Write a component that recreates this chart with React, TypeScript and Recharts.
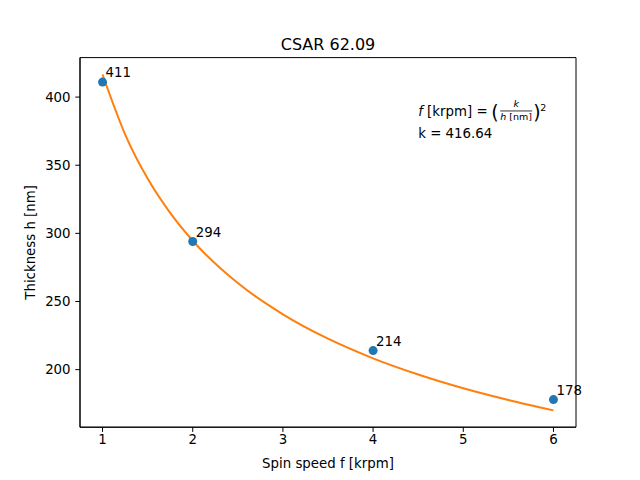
import { ComposedChart, Line, Scatter, XAxis, YAxis, ReferenceDot, ReferenceArea } from "recharts";

// measured film thickness vs spin speed
const spinSpeed = [1, 2, 4, 6];
const thickness = [411, 294, 214, 178];

// fitted curve h = k / sqrt(f), sampled
const fitSpeed = [1, 1.25, 1.5, 1.75, 2, 2.5, 3, 3.5, 4, 4.5, 5, 5.5, 6];
const fitThickness = [416.6, 372.7, 340.2, 315.0, 294.6, 263.5, 240.6, 222.7, 208.3, 196.4, 186.3, 177.7, 170.1];

const xTicks = [1, 2, 3, 4, 5, 6];
const yTicks = [200, 250, 300, 350, 400];
const xDomain = [0.75, 6.25];
const yDomain = [157.76, 428.97];
const kValue = "416.64";
const formulaAt = { f: 4.5, h: 370 };

const measured = spinSpeed.map((f, i) => ({ f, h: thickness[i] }));
const fit = fitSpeed.map((f, i) => ({ f, h: fitThickness[i] }));

const font = "DejaVu Sans, sans-serif";
const tickStyle = { fontSize: 13.33, fill: "#000", fontFamily: font };

const PointWithLabel = (props: any) => {
  const { cx, cy, payload } = props;
  return (
    <g>
      <circle cx={cx} cy={cy} r={4.5} fill="#1f77b4" />
      <text x={cx + 3} y={cy - 5} fontSize={13.33} fill="#000" fontFamily={font}>
        {payload.h}
      </text>
    </g>
  );
};

const Formula = (props: any) => {
  const vb = props.viewBox;
  const x0 = vb.x + vb.width / 2;
  const y1 = vb.y + vb.height / 2;
  const y0 = y1 - 22;
  return (
    <g fontFamily={font} fill="#000">
      <text x={x0} y={y0} fontSize={13.33}>
        <tspan fontStyle="italic">f</tspan>
        <tspan> [krpm] = </tspan>
      </text>
      <text x={x0 + 73} y={y0 + 3.5} fontSize={19}>(</text>
      <text x={x0 + 98} y={y0 - 8.5} fontSize={9.5} fontStyle="italic" textAnchor="middle">k</text>
      <line x1={x0 + 82} x2={x0 + 114} y1={y0 - 5} y2={y0 - 5} stroke="#000" strokeWidth={0.8} />
      <text x={x0 + 98} y={y0 + 4.5} fontSize={9.5} textAnchor="middle">
        <tspan fontStyle="italic">h</tspan>
        <tspan> [nm]</tspan>
      </text>
      <text x={x0 + 115} y={y0 + 3.5} fontSize={19}>)</text>
      <text x={x0 + 122} y={y0 - 5} fontSize={9.5}>2</text>
      <text x={x0} y={y1} fontSize={13.33}>k = {kValue}</text>
    </g>
  );
};

export default function App() {
  return (
    <div style={{ position: "absolute", left: 0, top: 0, background: "#fff" }}>
      <ComposedChart width={640} height={480} margin={{ top: 57.6, right: 64, bottom: 0, left: 0 }}>
        <XAxis
          dataKey="f"
          type="number"
          domain={xDomain}
          ticks={xTicks}
          height={52.8}
          tick={tickStyle}
          tickSize={4.7}
          tickMargin={3}
          stroke="#000"
          axisLine={{ stroke: "#000", strokeWidth: 1 }}
          tickLine={{ stroke: "#000", strokeWidth: 1 }}
        />
        <YAxis
          type="number"
          domain={yDomain}
          ticks={yTicks}
          width={80}
          tick={tickStyle}
          tickSize={4.7}
          tickMargin={4.7}
          stroke="#000"
          axisLine={{ stroke: "#000", strokeWidth: 1 }}
          tickLine={{ stroke: "#000", strokeWidth: 1 }}
        />
        <ReferenceArea
          x1={xDomain[0]}
          x2={xDomain[1]}
          y1={yDomain[0]}
          y2={yDomain[1]}
          fill="none"
          fillOpacity={0}
          stroke="#000"
          strokeWidth={1}
          ifOverflow="visible"
        />
        <Scatter data={measured} dataKey="h" shape={PointWithLabel} isAnimationActive={false} />
        <Line
          data={fit}
          dataKey="h"
          type="monotone"
          stroke="#ff7f0e"
          strokeWidth={2}
          dot={false}
          activeDot={false}
          isAnimationActive={false}
        />
        <ReferenceDot
          x={formulaAt.f}
          y={formulaAt.h}
          r={1}
          fill="none"
          stroke="none"
          label={{ content: (p: any) => <Formula viewBox={p.viewBox} /> }}
        />
        <text x={328} y={50} textAnchor="middle" fontSize={16} fontFamily={font} fill="#000">
          CSAR 62.09
        </text>
        <text x={328} y={468} textAnchor="middle" fontSize={13.33} fontFamily={font} fill="#000">
          Spin speed f [krpm]
        </text>
        <text
          x={35}
          y={242.4}
          textAnchor="middle"
          fontSize={13.33}
          fontFamily={font}
          fill="#000"
          transform="rotate(-90 35 242.4)"
        >
          Thickness h [nm]
        </text>
      </ComposedChart>
    </div>
  );
}
